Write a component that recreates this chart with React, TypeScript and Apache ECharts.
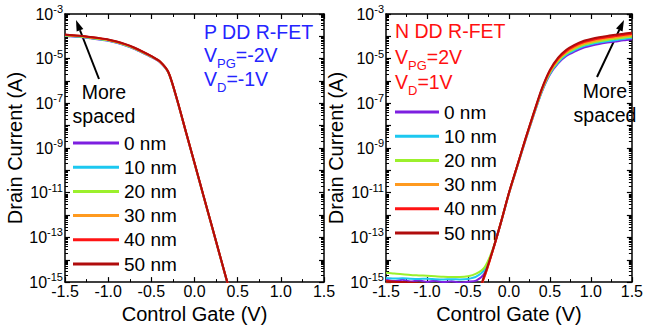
import React, { useEffect, useRef } from 'react';
import * as echarts from 'echarts';

// Gate voltage grids (V)
const vgP = [-1.5, -1.4, -1.3, -1.2, -1.1, -1.0, -0.9, -0.8, -0.7, -0.6, -0.5, -0.4, -0.3, -0.2, -0.1, 0.0, 0.1, 0.2, 0.3, 0.4];
const vgN = [-1.5, -1.4, -1.3, -1.2, -1.1, -1.0, -0.9, -0.8, -0.7, -0.6, -0.5, -0.4, -0.3, -0.2, -0.1, 0.0, 0.1, 0.2, 0.3, 0.4, 0.5, 0.6, 0.7, 0.8, 0.9, 1.0, 1.1, 1.2, 1.3, 1.4, 1.5];

// log10 of drain current (A), P-type device
const pLog0 = [-3.98, -4.01, -4.04, -4.09, -4.14, -4.20, -4.29, -4.41, -4.56, -4.74, -4.93, -5.16, -5.65, -6.88, -8.29, -9.69, -11.10, -12.50, -13.91, -15.31];
const pLog10 = [-3.97, -4.00, -4.03, -4.08, -4.13, -4.19, -4.28, -4.40, -4.55, -4.73, -4.92, -5.15, -5.64, -6.87, -8.28, -9.68, -11.09, -12.49, -13.90, -15.30];
const pLog20 = [-3.96, -3.99, -4.02, -4.07, -4.12, -4.18, -4.27, -4.39, -4.54, -4.72, -4.91, -5.14, -5.64, -6.87, -8.28, -9.68, -11.09, -12.49, -13.90, -15.30];
const pLog30 = [-3.94, -3.97, -4.00, -4.05, -4.10, -4.16, -4.25, -4.37, -4.52, -4.70, -4.90, -5.14, -5.63, -6.86, -8.27, -9.67, -11.08, -12.48, -13.89, -15.29];
const pLog40 = [-3.93, -3.96, -3.99, -4.04, -4.09, -4.15, -4.24, -4.36, -4.51, -4.69, -4.89, -5.13, -5.63, -6.86, -8.27, -9.67, -11.08, -12.48, -13.89, -15.29];
const pLog50 = [-3.92, -3.95, -3.98, -4.03, -4.08, -4.14, -4.23, -4.35, -4.50, -4.68, -4.88, -5.12, -5.62, -6.85, -8.26, -9.66, -11.07, -12.47, -13.88, -15.28];

// log10 of drain current (A), N-type device
const nLog0 = [-14.88, -14.95, -14.90, -14.97, -14.92, -14.99, -14.94, -15.00, -14.96, -15.02, -14.98, -14.93, -14.62, -13.62, -12.38, -11.04, -9.85, -8.67, -7.55, -6.50, -5.71, -5.21, -4.88, -4.68, -4.52, -4.42, -4.34, -4.28, -4.23, -4.18, -4.14];
const nLog10 = [-14.82, -14.84, -14.83, -14.85, -14.86, -14.85, -14.87, -14.88, -14.87, -14.88, -14.86, -14.76, -14.45, -13.59, -12.37, -11.03, -9.84, -8.66, -7.53, -6.47, -5.67, -5.16, -4.82, -4.62, -4.46, -4.36, -4.28, -4.22, -4.17, -4.12, -4.08];
const nLog20 = [-14.58, -14.62, -14.65, -14.68, -14.70, -14.72, -14.74, -14.76, -14.77, -14.77, -14.74, -14.62, -14.35, -13.56, -12.36, -11.02, -9.83, -8.64, -7.51, -6.44, -5.63, -5.11, -4.77, -4.56, -4.40, -4.30, -4.22, -4.16, -4.11, -4.06, -4.02];
const nLog30 = [-15.05, -15.08, -15.10, -15.12, -15.15, -15.18, -15.20, -15.22, -15.25, -15.28, -15.35, -15.50, -14.76, -13.63, -12.36, -11.02, -9.82, -8.63, -7.49, -6.41, -5.58, -5.05, -4.71, -4.50, -4.34, -4.24, -4.16, -4.10, -4.05, -4.00, -3.96];
const nLog40 = [-14.95, -14.98, -15.02, -15.05, -15.08, -15.10, -15.12, -15.15, -15.18, -15.22, -15.30, -15.50, -14.78, -13.63, -12.36, -11.01, -9.81, -8.61, -7.47, -6.38, -5.54, -5.00, -4.66, -4.44, -4.28, -4.18, -4.10, -4.04, -3.99, -3.94, -3.90];
const nLog50 = [-14.97, -14.98, -15.00, -15.02, -15.05, -15.08, -15.10, -15.12, -15.15, -15.20, -15.30, -15.50, -14.70, -13.60, -12.35, -11.00, -9.80, -8.60, -7.45, -6.35, -5.50, -4.95, -4.60, -4.38, -4.22, -4.12, -4.04, -3.98, -3.93, -3.88, -3.84];

const seriesNames = ['0 nm', '10 nm', '20 nm', '30 nm', '40 nm', '50 nm'];
const seriesColors = ['#7d1fe0', '#1cc8f0', '#9cf02c', '#ff9a1f', '#ff1414', '#b00c0c'];
const pSeries = [pLog0, pLog10, pLog20, pLog30, pLog40, pLog50];
const nSeries = [nLog0, nLog10, nLog20, nLog30, nLog40, nLog50];

const xMin = -1.5;
const xMax = 1.5;
const xStep = 0.5;
const yMinExp = -15;
const yMaxExp = -3;
const yMin = Math.pow(10, yMinExp);
const yMax = Math.pow(10, yMaxExp);

// log minor tick positions: k * 10^e, k = 2..9
const minorLogTicks: number[] = [];
for (let e = yMinExp; e < yMaxExp; e++) {
  for (let k = 2; k <= 9; k++) minorLogTicks.push(k * Math.pow(10, e));
}

const FONT = 'Liberation Sans, Arial, sans-serif';

function xAxisDef(gridIndex: number, position: 'bottom' | 'top') {
  const main = position === 'bottom';
  return {
    type: 'value',
    gridIndex,
    position,
    min: xMin,
    max: xMax,
    interval: xStep,
    name: main ? 'Control Gate (V)' : '',
    nameLocation: 'middle',
    nameGap: 14,
    nameTextStyle: { fontSize: 20, color: '#000', fontFamily: FONT },
    axisLine: { show: true, onZero: false, lineStyle: { color: '#000', width: 1.5 } },
    axisTick: { show: true, inside: true, length: 5, lineStyle: { color: '#000', width: 1.2 } },
    minorTick: { show: true, splitNumber: 2, length: 3, lineStyle: { color: '#000', width: 1 } },
    splitLine: { show: false },
    axisLabel: main
      ? {
          show: true,
          margin: 1,
          fontSize: 16,
          color: '#000',
          fontFamily: FONT,
          formatter: (v: number) => v.toFixed(1),
        }
      : { show: false },
  };
}

function yAxisMajor(gridIndex: number, position: 'left' | 'right', nameGap: number) {
  const main = position === 'left';
  return {
    type: 'log',
    logBase: 10,
    gridIndex,
    position,
    min: yMin,
    max: yMax,
    interval: 1,
    name: main ? 'Drain Current (A)' : '',
    nameLocation: 'middle',
    nameGap,
    nameTextStyle: { fontSize: 20, color: '#000', fontFamily: FONT },
    axisLine: { show: true, onZero: false, lineStyle: { color: '#000', width: 1.5 } },
    axisTick: { show: true, inside: true, length: 5, lineStyle: { color: '#000', width: 1.2 } },
    minorTick: { show: false },
    splitLine: { show: false },
    axisLabel: main
      ? {
          show: true,
          margin: 2,
          color: '#000',
          fontFamily: FONT,
          formatter: (v: number) => {
            const e = Math.round(Math.log10(v));
            if (Math.abs(e % 2) !== 1) return '';
            return `{b|10}{s|${e}}`;
          },
          rich: {
            b: { fontSize: 16, fontFamily: FONT, color: '#000' },
            s: { fontSize: 11, fontFamily: FONT, color: '#000', padding: [0, 0, 10, 0] },
          },
        }
      : { show: false },
  };
}

function yAxisMinor(gridIndex: number, position: 'left' | 'right') {
  return {
    type: 'log',
    logBase: 10,
    gridIndex,
    position,
    min: yMin,
    max: yMax,
    interval: 1,
    axisLine: { show: false, onZero: false },
    axisTick: {
      show: true,
      inside: true,
      length: 3,
      customValues: minorLogTicks,
      lineStyle: { color: '#000', width: 1 },
    },
    minorTick: { show: false },
    splitLine: { show: false },
    axisLabel: { show: false },
  };
}

function buildSeries(vg: number[], logs: number[][], xIndex: number, yIndex: number) {
  return logs.map((arr, i) => ({
    type: 'line',
    name: seriesNames[i],
    xAxisIndex: xIndex,
    yAxisIndex: yIndex,
    data: vg.map((x, k) => [x, Math.pow(10, arr[k])]),
    symbol: 'none',
    smooth: 0.25,
    clip: true,
    lineStyle: { color: seriesColors[i], width: 2 },
    itemStyle: { color: seriesColors[i] },
    z: 2 + i,
  }));
}

function legendDef(left: number, top: number, itemWidth: number) {
  return {
    show: true,
    orient: 'vertical',
    left,
    top,
    padding: 0,
    itemWidth,
    itemHeight: 3,
    itemGap: 4.2,
    icon: 'rect',
    data: seriesNames,
    textStyle: { fontSize: 19, lineHeight: 20, color: '#000', fontFamily: FONT },
    selectedMode: false,
  };
}

function condText(x: number, y: number, color: string, main: string, sub: string, rest: string) {
  return {
    type: 'text',
    x,
    y,
    style: {
      text: `{a|${main}}{b|${sub}}{a|${rest}}`,
      verticalAlign: 'middle',
      align: 'left',
      rich: {
        a: { fontSize: 19.5, fontFamily: FONT, fill: color, color },
        b: { fontSize: 13, fontFamily: FONT, fill: color, color, padding: [16, 0, 0, 0] },
      },
    },
  };
}

function arrow(tail: [number, number], tip: [number, number]) {
  const dx = tip[0] - tail[0];
  const dy = tip[1] - tail[1];
  const len = Math.sqrt(dx * dx + dy * dy);
  const ux = dx / len;
  const uy = dy / len;
  const hl = 11;
  const hw = 3.6;
  const bx = tip[0] - hl * ux;
  const by = tip[1] - hl * uy;
  const px = -uy;
  const py = ux;
  return [
    {
      type: 'line',
      shape: { x1: tail[0], y1: tail[1], x2: bx, y2: by },
      style: { stroke: '#000', lineWidth: 2 },
    },
    {
      type: 'polygon',
      shape: {
        points: [
          [tip[0], tip[1]],
          [bx + hw * px, by + hw * py],
          [bx - hw * px, by - hw * py],
        ],
      },
      style: { fill: '#000' },
    },
  ];
}

export default function App() {
  const ref = useRef<HTMLDivElement>(null);

  useEffect(() => {
    if (!ref.current) return;
    const chart = echarts.init(ref.current, undefined, { renderer: 'svg' });
    const blue = '#2424ff';
    const red = '#ff1010';
    const moreSpaced = (x: number, y: number) => ({
      type: 'text',
      x,
      y,
      style: {
        text: 'More\nspaced',
        fontSize: 19.5,
        lineHeight: 24,
        fontFamily: FONT,
        fill: '#000',
        align: 'center',
        verticalAlign: 'middle',
      },
    });
    const option = {
      animation: false,
      backgroundColor: '#fff',
      textStyle: { fontFamily: FONT },
      grid: [
        { left: 65, top: 14, width: 259, height: 273 },
        { left: 386, top: 14, width: 259, height: 273 },
      ],
      xAxis: [xAxisDef(0, 'bottom'), xAxisDef(0, 'top'), xAxisDef(1, 'bottom'), xAxisDef(1, 'top')],
      yAxis: [
        yAxisMajor(0, 'left', 39),
        yAxisMinor(0, 'left'),
        yAxisMajor(0, 'right', 0),
        yAxisMinor(0, 'right'),
        yAxisMajor(1, 'left', 40),
        yAxisMinor(1, 'left'),
        yAxisMajor(1, 'right', 0),
        yAxisMinor(1, 'right'),
      ],
      legend: [legendDef(73, 133, 46), legendDef(395, 102, 44)],
      series: [...buildSeries(vgP, pSeries, 0, 0), ...buildSeries(vgN, nSeries, 2, 4)],
      graphic: [
        {
          type: 'text',
          x: 204,
          y: 32,
          style: { text: 'P DD R-FET', fontSize: 19.5, fontFamily: FONT, fill: blue, verticalAlign: 'middle' },
        },
        condText(204, 55, blue, 'V', 'PG', '=-2V'),
        condText(204, 79, blue, 'V', 'D', '=-1V'),
        {
          type: 'text',
          x: 395,
          y: 31,
          style: { text: 'N DD R-FET', fontSize: 19.5, fontFamily: FONT, fill: red, verticalAlign: 'middle' },
        },
        condText(395, 57, red, 'V', 'PG', '=2V'),
        condText(395, 82, red, 'V', 'D', '=1V'),
        moreSpaced(104, 104),
        moreSpaced(605, 102.5),
        ...arrow([99, 79], [76, 20]),
        ...arrow([597, 77], [624, 20]),
      ],
    };
    chart.setOption(option as any);
    return () => chart.dispose();
  }, []);

  return (
    <div
      ref={ref}
      style={{ position: 'absolute', left: 0, top: 0, width: 646, height: 329, background: '#fff' }}
    />
  );
}
